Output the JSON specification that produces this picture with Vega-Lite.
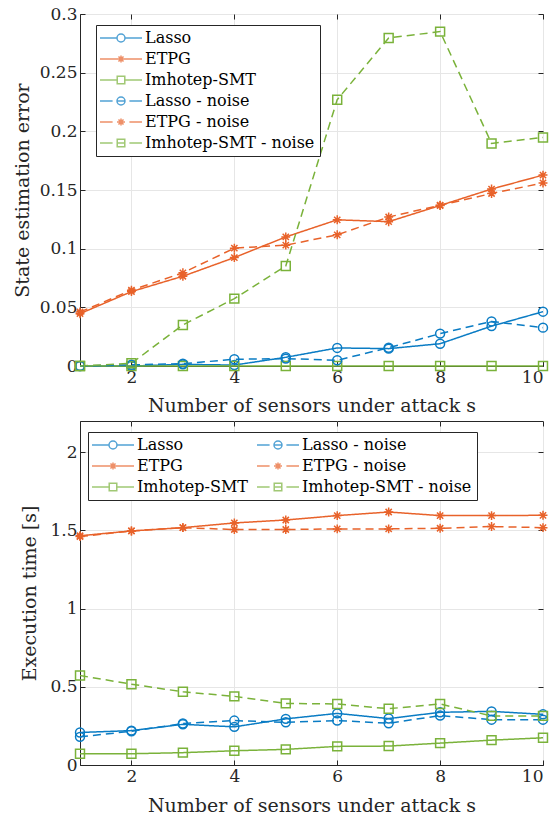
{
  "$schema": "https://vega.github.io/schema/vega-lite/v6.json",
  "background": "white",
  "padding": {"top": 4, "left": 12, "right": 10, "bottom": 4},
  "autosize": {"type": "pad"},
  "columns": 1,
  "align": "all",
  "spacing": 4,
  "datasets": {
    "err": [
      {"s":1,"series":"Lasso","v":0},{"s":2,"series":"Lasso","v":0},{"s":3,"series":"Lasso","v":0.0014},{"s":4,"series":"Lasso","v":0.0008},{"s":5,"series":"Lasso","v":0.0074},{"s":6,"series":"Lasso","v":0.0154},{"s":7,"series":"Lasso","v":0.0148},{"s":8,"series":"Lasso","v":0.019},{"s":9,"series":"Lasso","v":0.034},{"s":10,"series":"Lasso","v":0.0463},
      {"s":1,"series":"ETPG","v":0.0446},{"s":2,"series":"ETPG","v":0.0634},{"s":3,"series":"ETPG","v":0.0765},{"s":4,"series":"ETPG","v":0.0924},{"s":5,"series":"ETPG","v":0.110},{"s":6,"series":"ETPG","v":0.1246},{"s":7,"series":"ETPG","v":0.123},{"s":8,"series":"ETPG","v":0.1368},{"s":9,"series":"ETPG","v":0.1508},{"s":10,"series":"ETPG","v":0.1627},
      {"s":1,"series":"Imhotep-SMT","v":0},{"s":2,"series":"Imhotep-SMT","v":0},{"s":3,"series":"Imhotep-SMT","v":0},{"s":4,"series":"Imhotep-SMT","v":0},{"s":5,"series":"Imhotep-SMT","v":0},{"s":6,"series":"Imhotep-SMT","v":0},{"s":7,"series":"Imhotep-SMT","v":0},{"s":8,"series":"Imhotep-SMT","v":0},{"s":9,"series":"Imhotep-SMT","v":0},{"s":10,"series":"Imhotep-SMT","v":0},
      {"s":1,"series":"Lasso - noise","v":0},{"s":2,"series":"Lasso - noise","v":0.001},{"s":3,"series":"Lasso - noise","v":0.002},{"s":4,"series":"Lasso - noise","v":0.0057},{"s":5,"series":"Lasso - noise","v":0.0063},{"s":6,"series":"Lasso - noise","v":0.0049},{"s":7,"series":"Lasso - noise","v":0.0156},{"s":8,"series":"Lasso - noise","v":0.0276},{"s":9,"series":"Lasso - noise","v":0.038},{"s":10,"series":"Lasso - noise","v":0.0327},
      {"s":1,"series":"ETPG - noise","v":0.046},{"s":2,"series":"ETPG - noise","v":0.0646},{"s":3,"series":"ETPG - noise","v":0.0794},{"s":4,"series":"ETPG - noise","v":0.1004},{"s":5,"series":"ETPG - noise","v":0.103},{"s":6,"series":"ETPG - noise","v":0.1118},{"s":7,"series":"ETPG - noise","v":0.127},{"s":8,"series":"ETPG - noise","v":0.137},{"s":9,"series":"ETPG - noise","v":0.147},{"s":10,"series":"ETPG - noise","v":0.156},
      {"s":1,"series":"Imhotep-SMT - noise","v":0},{"s":2,"series":"Imhotep-SMT - noise","v":0.0023},{"s":3,"series":"Imhotep-SMT - noise","v":0.035},{"s":4,"series":"Imhotep-SMT - noise","v":0.0574},{"s":5,"series":"Imhotep-SMT - noise","v":0.0853},{"s":6,"series":"Imhotep-SMT - noise","v":0.227},{"s":7,"series":"Imhotep-SMT - noise","v":0.2796},{"s":8,"series":"Imhotep-SMT - noise","v":0.285},{"s":9,"series":"Imhotep-SMT - noise","v":0.1897},{"s":10,"series":"Imhotep-SMT - noise","v":0.1948}
    ],
    "time": [
      {"s":1,"series":"Lasso","v":0.208},{"s":2,"series":"Lasso","v":0.22},{"s":3,"series":"Lasso","v":0.26},{"s":4,"series":"Lasso","v":0.244},{"s":5,"series":"Lasso","v":0.295},{"s":6,"series":"Lasso","v":0.33},{"s":7,"series":"Lasso","v":0.297},{"s":8,"series":"Lasso","v":0.337},{"s":9,"series":"Lasso","v":0.343},{"s":10,"series":"Lasso","v":0.324},
      {"s":1,"series":"ETPG","v":1.466},{"s":2,"series":"ETPG","v":1.497},{"s":3,"series":"ETPG","v":1.518},{"s":4,"series":"ETPG","v":1.548},{"s":5,"series":"ETPG","v":1.567},{"s":6,"series":"ETPG","v":1.595},{"s":7,"series":"ETPG","v":1.618},{"s":8,"series":"ETPG","v":1.595},{"s":9,"series":"ETPG","v":1.595},{"s":10,"series":"ETPG","v":1.597},
      {"s":1,"series":"Imhotep-SMT","v":0.072},{"s":2,"series":"Imhotep-SMT","v":0.072},{"s":3,"series":"Imhotep-SMT","v":0.079},{"s":4,"series":"Imhotep-SMT","v":0.091},{"s":5,"series":"Imhotep-SMT","v":0.1},{"s":6,"series":"Imhotep-SMT","v":0.119},{"s":7,"series":"Imhotep-SMT","v":0.121},{"s":8,"series":"Imhotep-SMT","v":0.14},{"s":9,"series":"Imhotep-SMT","v":0.159},{"s":10,"series":"Imhotep-SMT","v":0.174},
      {"s":1,"series":"Lasso - noise","v":0.18},{"s":2,"series":"Lasso - noise","v":0.216},{"s":3,"series":"Lasso - noise","v":0.265},{"s":4,"series":"Lasso - noise","v":0.284},{"s":5,"series":"Lasso - noise","v":0.273},{"s":6,"series":"Lasso - noise","v":0.284},{"s":7,"series":"Lasso - noise","v":0.267},{"s":8,"series":"Lasso - noise","v":0.316},{"s":9,"series":"Lasso - noise","v":0.29},{"s":10,"series":"Lasso - noise","v":0.29},
      {"s":1,"series":"ETPG - noise","v":1.461},{"s":2,"series":"ETPG - noise","v":1.497},{"s":3,"series":"ETPG - noise","v":1.518},{"s":4,"series":"ETPG - noise","v":1.506},{"s":5,"series":"ETPG - noise","v":1.506},{"s":6,"series":"ETPG - noise","v":1.51},{"s":7,"series":"ETPG - noise","v":1.51},{"s":8,"series":"ETPG - noise","v":1.514},{"s":9,"series":"ETPG - noise","v":1.525},{"s":10,"series":"ETPG - noise","v":1.518},
      {"s":1,"series":"Imhotep-SMT - noise","v":0.572},{"s":2,"series":"Imhotep-SMT - noise","v":0.517},{"s":3,"series":"Imhotep-SMT - noise","v":0.468},{"s":4,"series":"Imhotep-SMT - noise","v":0.439},{"s":5,"series":"Imhotep-SMT - noise","v":0.394},{"s":6,"series":"Imhotep-SMT - noise","v":0.39},{"s":7,"series":"Imhotep-SMT - noise","v":0.36},{"s":8,"series":"Imhotep-SMT - noise","v":0.39},{"s":9,"series":"Imhotep-SMT - noise","v":0.314},{"s":10,"series":"Imhotep-SMT - noise","v":0.314}
    ]
  },
  "concat": [
    {
      "width": 463,
      "height": 352,
      "data": {"name": "err"},
      "layer": [
        {
          "mark": {"type": "line", "strokeWidth": 1.5},
          "encoding": {
            "x": {"field": "s", "type": "quantitative", "scale": {"domain": [1, 10], "nice": false}, "axis": {"orient": "bottom", "values": [2,4,6,8,10], "title": "Number of sensors under attack s", "labelPadding": 8, "titlePadding": 11}},
            "y": {"field": "v", "type": "quantitative", "scale": {"domain": [0, 0.3], "nice": false}, "axis": {"orient": "left", "values": [0,0.05,0.1,0.15,0.2,0.25,0.3], "format": "~g", "title": "State estimation error", "labelPadding": 8, "titlePadding": 7}},
            "color": {"field": "series", "type": "nominal", "scale": {"domain": ["Lasso","ETPG","Imhotep-SMT","Lasso - noise","ETPG - noise","Imhotep-SMT - noise"], "range": ["#0a7cc4","#e8622a","#7ab23a","#0a7cc4","#e8622a","#7ab23a"]}, "legend": null},
            "strokeDash": {"field": "series", "type": "nominal", "scale": {"domain": ["Lasso","ETPG","Imhotep-SMT","Lasso - noise","ETPG - noise","Imhotep-SMT - noise"], "range": [[1,0],[1,0],[1,0],[8,5],[8,5],[8,5]]}, "legend": null}
          }
        },
        {
          "mark": {"type": "point", "filled": false, "size": 80, "strokeWidth": 1.5, "opacity": 1},
          "encoding": {
            "x": {"field": "s", "type": "quantitative", "axis": null},
            "y": {"field": "v", "type": "quantitative", "axis": null},
            "color": {"field": "series", "type": "nominal", "legend": null},
            "shape": {"field": "series", "type": "nominal", "scale": {"domain": ["Lasso","ETPG","Imhotep-SMT","Lasso - noise","ETPG - noise","Imhotep-SMT - noise"], "range": ["circle","M-1,0H1M0,-1V1M-0.7,-0.7L0.7,0.7M-0.7,0.7L0.7,-0.7","square","circle","M-1,0H1M0,-1V1M-0.7,-0.7L0.7,0.7M-0.7,0.7L0.7,-0.7","square"]}, "legend": null}
          }
        },
        {
          "transform": [{"filter": "false"}],
          "mark": {"type": "point", "filled": false, "strokeWidth": 1.5},
          "encoding": {
            "x": {"field": "s", "type": "quantitative", "axis": null},
            "y": {"field": "v", "type": "quantitative", "axis": null},
            "stroke": {"field": "series", "type": "nominal", "scale": {"domain": ["Lasso","ETPG","Imhotep-SMT","Lasso - noise","ETPG - noise","Imhotep-SMT - noise"], "range": ["#0a7cc4","#e8622a","#7ab23a","#0a7cc4","#e8622a","#7ab23a"]},
              "legend": {"title": null, "orient": "none", "legendX": 16, "legendY": 11}},
            "shape": {"field": "series", "type": "nominal", "scale": {"domain": ["Lasso","ETPG","Imhotep-SMT","Lasso - noise","ETPG - noise","Imhotep-SMT - noise"], "range": [
              "M-3,0H-0.57M0.57,0H3M-0.57,0A0.57,0.57 0 1,0 0.57,0A0.57,0.57 0 1,0 -0.57,0",
              "M-3,0H3M0,-0.5V0.5M-0.36,-0.36L0.36,0.36M-0.36,0.36L0.36,-0.36",
              "M-3,0H-0.54M0.54,0H3M-0.54,-0.54H0.54V0.54H-0.54Z",
              "M-3,0H-1.2M-0.57,0H0.57M1.2,0H3M-0.57,0A0.57,0.57 0 1,0 0.57,0A0.57,0.57 0 1,0 -0.57,0",
              "M-3,0H-1.2M-0.57,0H0.57M1.2,0H3M0,-0.5V0.5M-0.36,-0.36L0.36,0.36M-0.36,0.36L0.36,-0.36",
              "M-3,0H-1.2M-0.54,0H0.54M1.2,0H3M-0.54,-0.54H0.54V0.54H-0.54Z"]},
              "legend": {"title": null, "orient": "none", "legendX": 16, "legendY": 11}}
          }
        },
        {
          "transform": [{"filter": "false"}],
          "mark": {"type": "point"},
          "encoding": {
            "x": {"field": "s", "type": "quantitative", "axis": {"orient": "top", "values": [2,4,6,8,10], "labels": false, "title": null, "domain": false, "grid": false}},
            "y": {"field": "v", "type": "quantitative", "axis": {"orient": "right", "values": [0,0.05,0.1,0.15,0.2,0.25,0.3], "labels": false, "title": null, "domain": false, "grid": false}}
          }
        }
      ],
      "resolve": {"scale": {"shape": "independent", "stroke": "independent"}, "axis": {"x": "independent", "y": "independent"}}
    },
    {
      "width": 463,
      "height": 344,
      "data": {"name": "time"},
      "layer": [
        {
          "mark": {"type": "line", "strokeWidth": 1.5},
          "encoding": {
            "x": {"field": "s", "type": "quantitative", "scale": {"domain": [1, 10], "nice": false}, "axis": {"orient": "bottom", "values": [2,4,6,8,10], "title": "Number of sensors under attack s", "labelPadding": 8, "titlePadding": 12}},
            "y": {"field": "v", "type": "quantitative", "scale": {"domain": [0, 2.2], "nice": false}, "axis": {"orient": "left", "values": [0,0.5,1,1.5,2], "format": "~g", "title": "Execution time [s]", "labelPadding": 8, "titlePadding": 10}},
            "color": {"field": "series", "type": "nominal", "scale": {"domain": ["Lasso","ETPG","Imhotep-SMT","Lasso - noise","ETPG - noise","Imhotep-SMT - noise"], "range": ["#0a7cc4","#e8622a","#7ab23a","#0a7cc4","#e8622a","#7ab23a"]}, "legend": null},
            "strokeDash": {"field": "series", "type": "nominal", "scale": {"domain": ["Lasso","ETPG","Imhotep-SMT","Lasso - noise","ETPG - noise","Imhotep-SMT - noise"], "range": [[1,0],[1,0],[1,0],[8,5],[8,5],[8,5]]}, "legend": null}
          }
        },
        {
          "mark": {"type": "point", "filled": false, "size": 80, "strokeWidth": 1.5, "opacity": 1},
          "encoding": {
            "x": {"field": "s", "type": "quantitative", "axis": null},
            "y": {"field": "v", "type": "quantitative", "axis": null},
            "color": {"field": "series", "type": "nominal", "legend": null},
            "shape": {"field": "series", "type": "nominal", "scale": {"domain": ["Lasso","ETPG","Imhotep-SMT","Lasso - noise","ETPG - noise","Imhotep-SMT - noise"], "range": ["circle","M-1,0H1M0,-1V1M-0.7,-0.7L0.7,0.7M-0.7,0.7L0.7,-0.7","square","circle","M-1,0H1M0,-1V1M-0.7,-0.7L0.7,0.7M-0.7,0.7L0.7,-0.7","square"]}, "legend": null}
          }
        },
        {
          "transform": [{"filter": "false"}],
          "mark": {"type": "point", "filled": false, "strokeWidth": 1.5},
          "encoding": {
            "x": {"field": "s", "type": "quantitative", "axis": null},
            "y": {"field": "v", "type": "quantitative", "axis": null},
            "stroke": {"field": "series", "type": "nominal", "scale": {"domain": ["Lasso","ETPG","Imhotep-SMT","Lasso - noise","ETPG - noise","Imhotep-SMT - noise"], "range": ["#0a7cc4","#e8622a","#7ab23a","#0a7cc4","#e8622a","#7ab23a"]},
              "legend": {"title": null, "orient": "none", "legendX": 8, "legendY": 11, "columns": 2, "columnPadding": 6}},
            "shape": {"field": "series", "type": "nominal", "scale": {"domain": ["Lasso","ETPG","Imhotep-SMT","Lasso - noise","ETPG - noise","Imhotep-SMT - noise"], "range": [
              "M-3,0H-0.57M0.57,0H3M-0.57,0A0.57,0.57 0 1,0 0.57,0A0.57,0.57 0 1,0 -0.57,0",
              "M-3,0H3M0,-0.5V0.5M-0.36,-0.36L0.36,0.36M-0.36,0.36L0.36,-0.36",
              "M-3,0H-0.54M0.54,0H3M-0.54,-0.54H0.54V0.54H-0.54Z",
              "M-3,0H-1.2M-0.57,0H0.57M1.2,0H3M-0.57,0A0.57,0.57 0 1,0 0.57,0A0.57,0.57 0 1,0 -0.57,0",
              "M-3,0H-1.2M-0.57,0H0.57M1.2,0H3M0,-0.5V0.5M-0.36,-0.36L0.36,0.36M-0.36,0.36L0.36,-0.36",
              "M-3,0H-1.2M-0.54,0H0.54M1.2,0H3M-0.54,-0.54H0.54V0.54H-0.54Z"]},
              "legend": {"title": null, "orient": "none", "legendX": 8, "legendY": 11, "columns": 2, "columnPadding": 6}}
          }
        },
        {
          "transform": [{"filter": "false"}],
          "mark": {"type": "point"},
          "encoding": {
            "x": {"field": "s", "type": "quantitative", "axis": {"orient": "top", "values": [2,4,6,8,10], "labels": false, "title": null, "domain": false, "grid": false}},
            "y": {"field": "v", "type": "quantitative", "axis": {"orient": "right", "values": [0,0.5,1,1.5,2], "labels": false, "title": null, "domain": false, "grid": false}}
          }
        }
      ],
      "resolve": {"scale": {"shape": "independent", "stroke": "independent"}, "axis": {"x": "independent", "y": "independent"}}
    }
  ],
  "resolve": {"scale": {"color": "independent", "stroke": "independent", "shape": "independent", "strokeDash": "independent"}},
  "config": {
    "font": "DejaVu Serif",
    "view": {"stroke": "#262626", "strokeWidth": 1},
    "axis": {
      "labelFont": "DejaVu Serif", "labelFontSize": 17, "labelColor": "#262626",
      "titleFont": "DejaVu Serif", "titleFontSize": 19, "titleFontWeight": "normal", "titleColor": "#262626",
      "domainColor": "#262626", "tickColor": "#262626", "tickSize": -5, "gridColor": "#e6e6e6", "gridWidth": 1
    },
    "legend": {
      "labelFont": "DejaVu Serif", "labelFontSize": 16, "labelColor": "#000000", "labelLimit": 400,
      "symbolSize": 196, "symbolStrokeWidth": 1.5, "symbolFillColor": "transparent",
      "strokeColor": "#262626", "fillColor": "white", "padding": 5, "rowPadding": 5, "labelOffset": 16, "symbolOffset": 12
    }
  }
}
